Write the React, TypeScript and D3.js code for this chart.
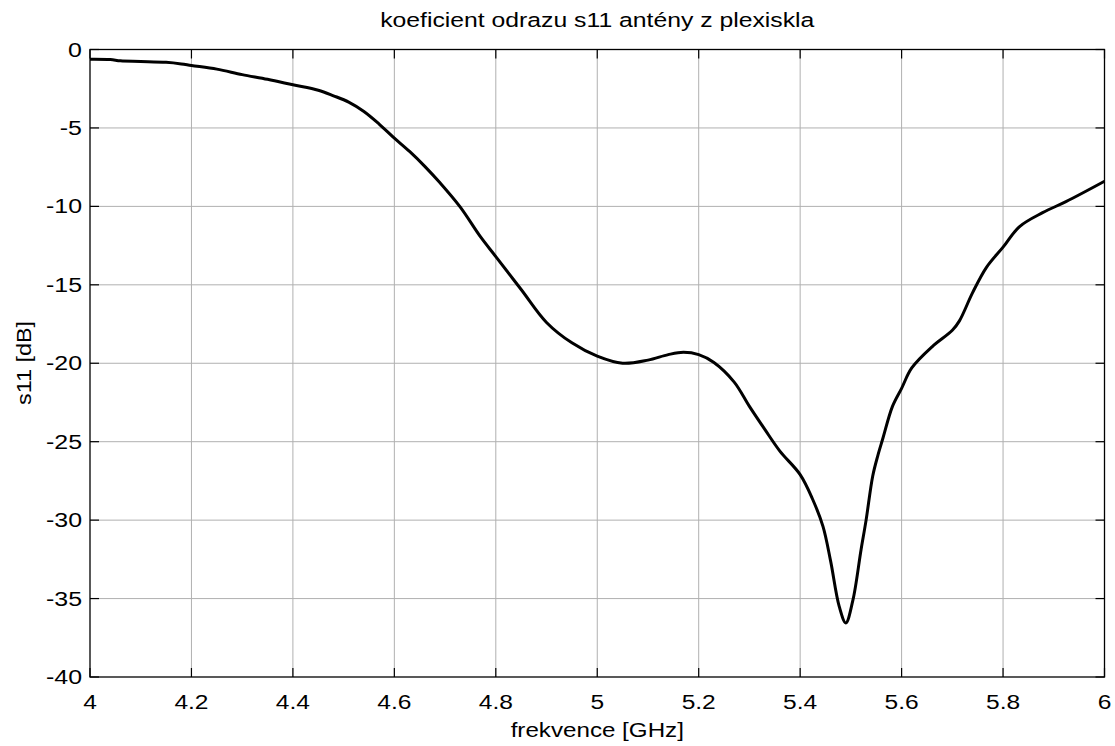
import React from "react";
import * as d3 from "d3";

const freqGHz: number[] = [
  4.0, 4.04, 4.06, 4.1, 4.15, 4.18, 4.2, 4.25, 4.3, 4.35, 4.4, 4.45, 4.48, 4.51,
  4.54, 4.57, 4.6, 4.63, 4.66, 4.69, 4.73, 4.77, 4.8, 4.85, 4.9, 4.95, 5.0, 5.05,
  5.1, 5.14, 5.17, 5.2, 5.23, 5.27, 5.3, 5.33, 5.36, 5.4, 5.425, 5.445, 5.46,
  5.477, 5.49, 5.504, 5.52, 5.53, 5.543, 5.553, 5.563, 5.582, 5.6, 5.62, 5.66,
  5.7, 5.714, 5.74, 5.767, 5.8, 5.832, 5.878, 5.924, 6.0,
];
const s11dB: number[] = [
  -0.62, -0.64, -0.72, -0.76, -0.82, -0.92, -1.02, -1.25, -1.6, -1.9, -2.25, -2.6,
  -2.95, -3.35, -3.95, -4.75, -5.65, -6.5, -7.45, -8.5, -10.05, -11.95, -13.2,
  -15.3, -17.4, -18.7, -19.55, -20.0, -19.8, -19.45, -19.3, -19.45, -19.95, -21.2,
  -22.75, -24.2, -25.6, -27.1, -28.7, -30.4, -32.6, -35.5, -36.55, -35.1, -31.9,
  -30.0, -27.2, -25.9, -24.8, -22.75, -21.6, -20.3, -18.95, -17.9, -17.3, -15.5,
  -13.9, -12.6, -11.3, -10.4, -9.7, -8.4,
];
const xTicks: number[] = [4, 4.2, 4.4, 4.6, 4.8, 5, 5.2, 5.4, 5.6, 5.8, 6];
const yTicks: number[] = [0, -5, -10, -15, -20, -25, -30, -35, -40];

const title = "koeficient odrazu s11 antény z plexiskla";
const xLabel = "frekvence [GHz]";
const yLabel = "s11 [dB]";

export default function App() {
  const W = 1115;
  const H = 746;
  const left = 90;
  const right = 1104.5;
  const top = 49.5;
  const bottom = 677;
  const x = d3.scaleLinear().domain([4, 6]).range([left, right]);
  const y = d3.scaleLinear().domain([-40, 0]).range([bottom, top]);
  const pts = freqGHz.map((f, i) => [f, s11dB[i]] as [number, number]);
  const line = d3
    .line<[number, number]>()
    .x((d) => x(d[0]))
    .y((d) => y(d[1]))
    .curve(d3.curveCatmullRom.alpha(0.5));
  const font = "'Liberation Sans', Arial, sans-serif";
  const tickLen = 9;
  const fs = 19.5;
  return (
    <svg
      width={W}
      height={H}
      style={{ position: "absolute", left: 0, top: 0, background: "#fff" }}
      fontFamily={font}
    >
      <rect x={0} y={0} width={W} height={H} fill="#fff" />
      {xTicks.slice(1, -1).map((t) => (
        <line key={"gx" + t} x1={x(t)} x2={x(t)} y1={top} y2={bottom} stroke="#b0b0b0" strokeWidth={1} />
      ))}
      {yTicks.slice(1, -1).map((t) => (
        <line key={"gy" + t} x1={left} x2={right} y1={y(t)} y2={y(t)} stroke="#b0b0b0" strokeWidth={1} />
      ))}
      {xTicks.map((t) => (
        <g key={"tx" + t}>
          <line x1={x(t)} x2={x(t)} y1={bottom} y2={bottom - tickLen} stroke="#000" strokeWidth={1.2} />
          <line x1={x(t)} x2={x(t)} y1={top} y2={top + tickLen} stroke="#000" strokeWidth={1.2} />
          <text
            transform={`translate(${x(t)}, 709) scale(1.26, 1)`}
            fontSize={fs}
            textAnchor="middle"
            fill="#000"
          >
            {String(t)}
          </text>
        </g>
      ))}
      {yTicks.map((t) => (
        <g key={"ty" + t}>
          <line x1={left} x2={left + tickLen} y1={y(t)} y2={y(t)} stroke="#000" strokeWidth={1.2} />
          <line x1={right} x2={right - tickLen} y1={y(t)} y2={y(t)} stroke="#000" strokeWidth={1.2} />
          <text
            transform={`translate(82, ${y(t)}) scale(1.28, 1)`}
            dy="0.36em"
            fontSize={fs}
            textAnchor="end"
            fill="#000"
          >
            {String(t)}
          </text>
        </g>
      ))}
      <rect x={left} y={top} width={right - left} height={bottom - top} fill="none" stroke="#000" strokeWidth={1.3} />
      <path d={line(pts) || ""} fill="none" stroke="#000" strokeWidth={3} strokeLinejoin="round" />
      <text
        transform={`translate(${(left + right) / 2}, 27) scale(1.27, 1)`}
        fontSize={fs}
        textAnchor="middle"
        fill="#000"
      >
        {title}
      </text>
      <text
        transform={`translate(${(left + right) / 2}, 737) scale(1.24, 1)`}
        fontSize={fs}
        textAnchor="middle"
        fill="#000"
      >
        {xLabel}
      </text>
      <text
        transform={`translate(31, 363) rotate(-90) scale(1.2, 1)`}
        fontSize={fs}
        textAnchor="middle"
        fill="#000"
      >
        {yLabel}
      </text>
    </svg>
  );
}
